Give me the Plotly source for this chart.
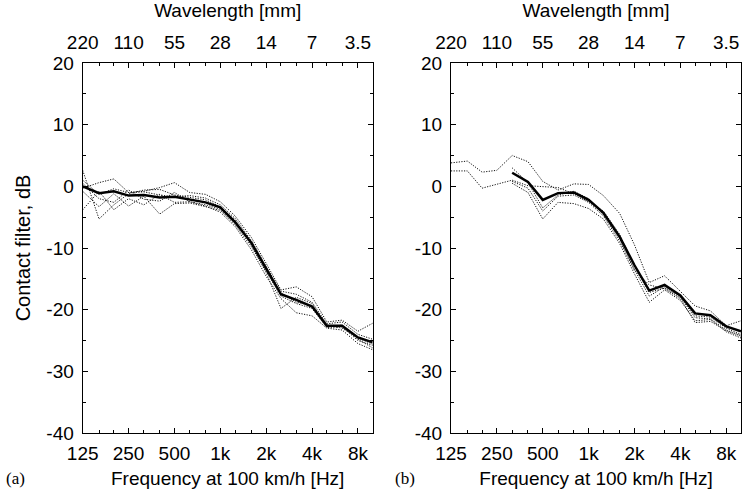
import math
import plotly.graph_objects as go

# ---------------- data ----------------
freqs = [125, 160, 200, 250, 315, 400, 500, 630, 800, 1000, 1250, 1600,
         2000, 2500, 3150, 4000, 5000, 6300, 8000, 10000]

a_mean = [0.0, -1.1, -0.8, -1.5, -1.4, -1.8, -1.7, -2.2, -2.6, -3.4, -5.8, -9.2,
          -13.4, -17.5, -18.4, -19.5, -22.6, -22.6, -24.5, -25.3]
a_ind1 = [2.6, -5.3, -3.0, -1.2, -0.6, -0.5, -1.4, -1.8, -2.2, -3.3, -5.5, -9.5,
          -14.0, -19.8, -18.0, -19.0, -22.8, -22.5, -24.8, -26.2]
a_ind2 = [-0.3, 0.6, 1.2, -1.0, -0.8, -0.2, 0.6, -1.0, -1.3, -2.5, -4.8, -8.3,
          -12.5, -16.8, -16.3, -17.9, -22.0, -21.7, -23.5, -22.2]
a_ind3 = [-3.8, -0.8, -3.8, -2.0, -3.0, -1.3, -2.6, -2.5, -3.2, -4.2, -6.5, -10.3,
          -14.6, -18.2, -20.5, -21.0, -23.0, -23.3, -25.5, -26.5]
a_ind4 = [-0.8, -3.3, -1.2, -3.2, -1.6, -4.5, -2.8, -2.7, -3.3, -3.9, -6.2, -9.8,
          -13.8, -17.8, -19.0, -19.8, -22.9, -22.8, -25.0, -25.8]
a_ind5 = [1.0, -1.3, -0.4, -1.0, -0.9, -1.4, -1.7, -1.5, -1.9, -3.0, -5.2, -8.8,
          -13.0, -17.0, -17.5, -18.8, -22.3, -22.0, -24.0, -24.8]
a_ind6 = [0.5, -2.0, -2.6, -0.6, -2.1, -2.4, -1.0, -2.5, -3.0, -3.7, -6.0, -9.0,
          -13.2, -17.3, -18.8, -19.3, -22.5, -23.0, -24.6, -25.6]

b_mean = [None, None, None, None, 2.2, 0.7, -2.2, -1.1, -1.0, -2.2, -4.3, -8.2,
          -12.8, -16.9, -16.0, -17.7, -20.6, -20.9, -22.7, -23.5]
b_ind1 = [3.8, 4.1, 2.3, 2.6, 5.0, 4.0, 0.8, -0.6, 0.4, 0.3, -1.5, -4.4,
          -9.5, -15.6, -14.5, -17.0, -19.4, -20.2, -22.6, -21.8]
b_ind2 = [2.5, 2.5, -0.3, 0.3, 1.0, 0.1, 0.0, -0.2, -1.2, -2.5, -4.0, -7.8,
          -13.0, -17.2, -16.5, -18.0, -21.3, -21.5, -23.3, -24.2]
b_ind3 = [None, None, None, None, 3.0, 0.6, -3.5, -1.4, -0.8, -2.0, -4.6, -8.5,
          -13.5, -17.8, -16.3, -17.8, -21.0, -21.2, -23.0, -24.0]
b_ind4 = [None, None, None, None, 0.5, -1.0, -5.3, -2.6, -2.8, -3.6, -5.3, -9.3,
          -14.2, -18.8, -16.8, -18.5, -21.8, -21.6, -23.6, -24.6]
b_ind5 = [None, None, None, None, 0.8, -0.3, -4.0, -1.6, -1.4, -2.6, -4.8, -8.9,
          -13.6, -16.0, -16.6, -18.2, -22.1, -21.9, -23.4, -24.3]

freq_ticks = [125, 250, 500, 1000, 2000, 4000, 8000]
freq_labels = ["125", "250", "500", "1k", "2k", "4k", "8k"]
wave_labels = ["220", "110", "55", "28", "14", "7", "3.5"]
y_ticks = [-40, -30, -20, -10, 0, 10, 20]
y_labels = ["-40", "-30", "-20", "-10", "0", "10", "20"]

# ---------------- figure ----------------
FONT = "Liberation Sans"
TICK_SIZE = 19
TITLE_SIZE = 19
fig = go.Figure()

DOT = "1.2px,1.4px"

def add_panel(xa, ya, mean, inds):
    for s in inds:
        fig.add_trace(go.Scatter(x=freqs, y=s, mode="lines", xaxis=xa, yaxis=ya,
                                 line=dict(color="#111111", width=1, dash=DOT),
                                 showlegend=False, hoverinfo="skip"))
    fig.add_trace(go.Scatter(x=freqs, y=mean, mode="lines", xaxis=xa, yaxis=ya,
                             line=dict(color="black", width=2.5),
                             showlegend=False))

add_panel("x", "y", a_mean, [a_ind1, a_ind2, a_ind3, a_ind4, a_ind5, a_ind6])
add_panel("x2", "y2", b_mean, [b_ind1, b_ind2, b_ind3, b_ind4, b_ind5])
# invisible traces to anchor the top (wavelength) axes
fig.add_trace(go.Scatter(x=freqs, y=a_mean, xaxis="x3", yaxis="y", mode="lines",
                         line=dict(color="rgba(0,0,0,0)"), showlegend=False, hoverinfo="skip"))
fig.add_trace(go.Scatter(x=freqs, y=b_mean, xaxis="x4", yaxis="y2", mode="lines",
                         line=dict(color="rgba(0,0,0,0)"), showlegend=False, hoverinfo="skip"))

minor_vals = [f for f in freqs if f not in freq_ticks]
xr = [math.log10(125), math.log10(10000)]
dom_a = [82.7 / 744, 372.7 / 744]
dom_b = [451 / 744, 741 / 744]
dom_y = [1 - 433 / 494, 1 - 63 / 494]

tickfont = dict(family=FONT, size=TICK_SIZE, color="black")
titlefont = dict(family=FONT, size=TITLE_SIZE, color="black")

def xaxis_common(dom, anchor):
    return dict(type="log", range=xr, domain=dom, anchor=anchor, automargin=False,
                tickvals=freq_ticks, ticktext=freq_labels, tickfont=tickfont,
                ticks="inside", ticklen=5, tickcolor="black", tickwidth=1,
                minor=dict(tickvals=minor_vals, ticks="inside", ticklen=3,
                           tickcolor="black", tickwidth=1),
                showline=True, linecolor="black", linewidth=1.2, mirror="ticks",
                showgrid=False, zeroline=False, ticklabelstandoff=3,
                title=dict(text="Frequency at 100 km/h [Hz]", font=titlefont, standoff=8))

def xaxis_top(dom, over, anchor):
    return dict(type="log", range=xr, domain=dom, overlaying=over, anchor=anchor,
                automargin=False, side="top", tickvals=freq_ticks, ticktext=wave_labels,
                tickfont=tickfont, ticks="", showline=False, showgrid=False,
                zeroline=False, ticklabelstandoff=9,
                title=dict(text="Wavelength [mm]", font=titlefont, standoff=9))

def yaxis_common(dom, anchor, title):
    d = dict(range=[-40, 20], domain=dom, anchor=anchor, automargin=False,
             tickvals=y_ticks, ticktext=y_labels,
             tickfont=tickfont, ticks="inside", ticklen=5, tickcolor="black",
             minor=dict(dtick=5, ticks="inside", ticklen=3, tickcolor="black"),
             showline=True, linecolor="black", linewidth=1.2, mirror="ticks",
             showgrid=False, zeroline=False, ticklabelstandoff=4)
    if title:
        d["title"] = dict(text=title, font=dict(family=FONT, size=20, color="black"),
                          standoff=10)
    return d

fig.update_layout(
    width=744, height=494,
    margin=dict(l=0, r=0, t=0, b=0),
    paper_bgcolor="white", plot_bgcolor="white",
    xaxis=xaxis_common(dom_a, "y"),
    xaxis2=xaxis_common(dom_b, "y2"),
    xaxis3=xaxis_top(dom_a, "x", "y"),
    xaxis4=xaxis_top(dom_b, "x2", "y2"),
    yaxis=yaxis_common(dom_y, "x", "Contact filter, dB"),
    yaxis2=yaxis_common(dom_y, "x2", None),
    annotations=[
        dict(text="(a)", x=15 / 744, y=1 - 478 / 494, xref="paper", yref="paper",
             showarrow=False, xanchor="center", yanchor="middle",
             font=dict(family="Liberation Serif", size=17, color="black")),
        dict(text="(b)", x=405 / 744, y=1 - 478 / 494, xref="paper", yref="paper",
             showarrow=False, xanchor="center", yanchor="middle",
             font=dict(family="Liberation Serif", size=17, color="black")),
    ],
)

fig.write_html("out.html")
